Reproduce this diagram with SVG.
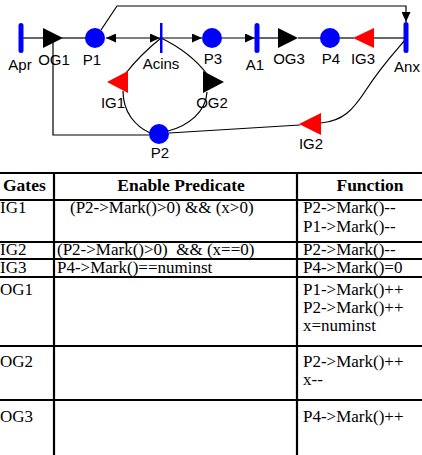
<svg xmlns="http://www.w3.org/2000/svg" width="422" height="455" viewBox="0 0 422 455">
<style>
.bg{fill:#fff}
.cn{fill:none;stroke:#000;stroke-width:1.2}
.pl{fill:#0000ff}
.tr{fill:#0000ff}
.ig{fill:#ff0000}
.og{fill:#000}
.lb{font-family:"Liberation Sans",Arial,sans-serif;font-size:15px;fill:#000;text-anchor:middle}
.tl{stroke:#000;stroke-width:2.2}
.th{font-family:"Liberation Serif","Times New Roman",serif;font-size:17.5px;font-weight:bold;fill:#000}
.td{font-family:"Liberation Serif","Times New Roman",serif;font-size:17px;fill:#000}
</style>
<defs>
<marker id="ah" markerUnits="userSpaceOnUse" markerWidth="10" markerHeight="9" refX="10" refY="4.5" orient="auto-start-reverse"><path d="M0,0 L10,4.5 L0,9 z" fill="#000"/></marker>
</defs>
<rect class="bg" x="0" y="0" width="422" height="455"/>
<g id="connectors">
<line class="cn" x1="21" y1="38" x2="43" y2="38"/>
<line class="cn" x1="62" y1="38" x2="86" y2="38"/>
<line class="cn" x1="106" y1="38" x2="160" y2="38" marker-start="url(#ah)" marker-end="url(#ah)"/>
<line class="cn" x1="161" y1="38" x2="202" y2="38" marker-end="url(#ah)"/>
<line class="cn" x1="222" y1="38" x2="255" y2="38" marker-end="url(#ah)"/>
<line class="cn" x1="257" y1="38" x2="279" y2="38"/>
<line class="cn" x1="298" y1="38" x2="321" y2="38"/>
<line class="cn" x1="340" y1="38" x2="354" y2="38"/>
<line class="cn" x1="374" y1="38" x2="406" y2="38"/>
<path class="cn" d="M101,30 L117,6 L406,6 L406,22" marker-end="url(#ah)"/>
<path class="cn" d="M161,38 Q140,55 126,73"/>
<path class="cn" d="M123,91 C123,112 135,126 150,133"/>
<path class="cn" d="M161,38 Q190,52 207,74"/>
<path class="cn" d="M207,92 C206,112 188,126 168,131"/>
<path class="cn" d="M53,38 L53,135 L149,135"/>
<line class="cn" x1="169" y1="133" x2="300" y2="125"/>
<path class="cn" d="M321,123 C343,121 353,110 366,90 C380,68 392,55 405,40"/>
</g>
<g id="Apr"><rect class="tr" x="18.5" y="23" width="5" height="30" rx="2.5"/><text class="lb" x="20" y="70">Apr</text></g>
<g id="OG1"><polygon class="og" points="43,28 63,38 43,48"/><text class="lb" x="54" y="65">OG1</text></g>
<g id="P1"><circle class="pl" cx="95" cy="38" r="10"/><text class="lb" x="92" y="65">P1</text></g>
<g id="Acins"><rect class="tr" x="160" y="23" width="2.5" height="30"/><text class="lb" x="161" y="69">Acins</text></g>
<g id="P3"><circle class="pl" cx="212" cy="38" r="10"/><text class="lb" x="213" y="64">P3</text></g>
<g id="A1"><rect class="tr" x="254.5" y="23" width="5" height="30" rx="2.5"/><text class="lb" x="255" y="70">A1</text></g>
<g id="OG3"><polygon class="og" points="278,28 298,38 278,48"/><text class="lb" x="289" y="64">OG3</text></g>
<g id="P4"><circle class="pl" cx="330" cy="38" r="10"/><text class="lb" x="331" y="64">P4</text></g>
<g id="IG3"><polygon class="ig" points="374,28 353,38 374,48"/><text class="lb" x="363" y="64">IG3</text></g>
<g id="Anx"><rect class="tr" x="403.5" y="22" width="5" height="31" rx="2.5"/><text class="lb" x="407" y="72">Anx</text></g>
<g id="IG1"><polygon class="ig" points="128,71 107,82 128,93"/><text class="lb" x="113" y="108">IG1</text></g>
<g id="OG2"><polygon class="og" points="203,71 224,82 203,93"/><text class="lb" x="212" y="108">OG2</text></g>
<g id="P2"><circle class="pl" cx="159" cy="134" r="10"/><text class="lb" x="160" y="158">P2</text></g>
<g id="IG2"><polygon class="ig" points="321,113 299,124 321,135"/><text class="lb" x="311" y="149">IG2</text></g>
<g id="table">
<line class="tl" x1="0" y1="173" x2="422" y2="173"/>
<line class="tl" x1="0" y1="200" x2="422" y2="200"/>
<line class="tl" x1="0" y1="242" x2="422" y2="242"/>
<line class="tl" x1="0" y1="259" x2="422" y2="259"/>
<line class="tl" x1="0" y1="277" x2="422" y2="277"/>
<line class="tl" x1="0" y1="346" x2="422" y2="346"/>
<line class="tl" x1="0" y1="400" x2="422" y2="400"/>
<line class="tl" x1="54" y1="173" x2="54" y2="455"/>
<line class="tl" x1="297" y1="173" x2="297" y2="455"/>
<text class="th" x="3" y="191">Gates</text>
<text class="th" x="181" y="191" text-anchor="middle">Enable Predicate</text>
<text class="th" x="370" y="191" text-anchor="middle">Function</text>
<text class="td" x="0" y="213">IG1</text>
<text class="td" x="70" y="213">(P2-&gt;Mark()&gt;0) &amp;&amp; (x&gt;0)</text>
<text class="td" x="303" y="213">P2-&gt;Mark()--</text>
<text class="td" x="303" y="232">P1-&gt;Mark()--</text>
<text class="td" x="0" y="255">IG2</text>
<text class="td" x="57" y="255" xml:space="preserve">(P2-&gt;Mark()&gt;0)  &amp;&amp; (x==0)</text>
<text class="td" x="303" y="255">P2-&gt;Mark()--</text>
<text class="td" x="0" y="273">IG3</text>
<text class="td" x="57" y="273">P4-&gt;Mark()==numinst</text>
<text class="td" x="303" y="273">P4-&gt;Mark()=0</text>
<text class="td" x="0" y="295">OG1</text>
<text class="td" x="303" y="295">P1-&gt;Mark()++</text>
<text class="td" x="303" y="313">P2-&gt;Mark()++</text>
<text class="td" x="303" y="331">x=numinst</text>
<text class="td" x="0" y="367">OG2</text>
<text class="td" x="303" y="367">P2-&gt;Mark()++</text>
<text class="td" x="303" y="385">x--</text>
<text class="td" x="0" y="422">OG3</text>
<text class="td" x="303" y="422">P4-&gt;Mark()++</text>
</g>
</svg>
